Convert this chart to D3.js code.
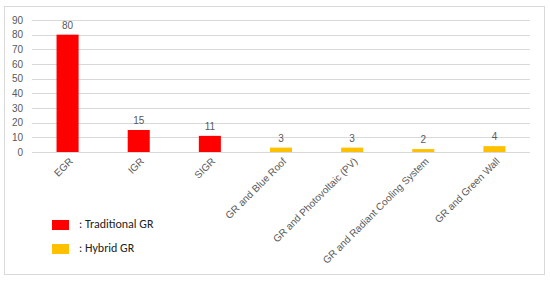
<!DOCTYPE html>
<html>
<head>
<meta charset="utf-8">
<script src="https://cdn.jsdelivr.net/npm/d3@7"></script>
<style>
  body { margin: 0; background: #fff; }
  svg { font-family: Arial, "Liberation Sans", sans-serif; }
</style>
</head>
<body>
<div id="chart"></div>
<script>
var categories = ["EGR", "IGR", "SIGR", "GR and Blue Roof", "GR and Photovoltaic (PV)", "GR and Radiant Cooling System", "GR and Green Wall"];
var values = [80, 15, 11, 3, 3, 2, 4];
var groups = ["Traditional", "Traditional", "Traditional", "Hybrid", "Hybrid", "Hybrid", "Hybrid"];
var yTicks = [0, 10, 20, 30, 40, 50, 60, 70, 80, 90];
var legendLabels = [": Traditional GR", ": Hybrid GR"];

var width = 550, height = 281;
var margin = {top: 20, left: 32, right: 20, bottom: 129};
var plotW = 530 - margin.left, plotH = 152 - margin.top;

var color = d3.scaleOrdinal()
    .domain(["Traditional", "Hybrid"])
    .range(["#ff0000", "#ffc000"]);

var svg = d3.select("#chart").append("svg")
    .attr("width", width)
    .attr("height", height);

svg.append("rect")
    .attr("x", 4.5).attr("y", 6.5)
    .attr("width", 540).attr("height", 268)
    .attr("fill", "#fff")
    .attr("stroke", "#d9d9d9");

var g = svg.append("g")
    .attr("transform", "translate(" + margin.left + "," + margin.top + ")");

var x = d3.scaleBand()
    .domain(categories)
    .range([0, plotW])
    .paddingInner(0.69)
    .paddingOuter(0.345);

var y = d3.scaleLinear()
    .domain([0, 90])
    .range([plotH, 0]);

// gridlines
g.selectAll(".grid")
    .data(yTicks)
    .enter().append("line")
    .attr("x1", 0).attr("x2", plotW)
    .attr("y1", function(d) { return Math.round(y(d)) + 0.5; })
    .attr("y2", function(d) { return Math.round(y(d)) + 0.5; })
    .attr("stroke", "#d9d9d9");

// y axis labels
var yAxis = d3.axisLeft(y).tickValues(yTicks).tickSize(0).tickPadding(9);
var ya = g.append("g").call(yAxis);
ya.select(".domain").remove();
ya.selectAll("text").attr("fill", "#595959").style("font-size", "10px");

// bars
g.selectAll(".bar")
    .data(values)
    .enter().append("rect")
    .attr("x", function(d, i) { return x(categories[i]); })
    .attr("y", function(d) { return y(d); })
    .attr("width", x.bandwidth())
    .attr("height", function(d) { return plotH - y(d); })
    .attr("fill", function(d, i) { return color(groups[i]); });

// value labels
g.selectAll(".val")
    .data(values)
    .enter().append("text")
    .attr("x", function(d, i) { return x(categories[i]) + x.bandwidth() / 2; })
    .attr("y", function(d) { return y(d) - 6; })
    .attr("text-anchor", "middle")
    .attr("fill", "#595959")
    .style("font-size", "10px")
    .text(function(d) { return d; });

// x axis labels
var xAxis = d3.axisBottom(x).tickSize(0).tickPadding(0);
var xa = g.append("g")
    .attr("transform", "translate(0," + plotH + ")")
    .call(xAxis);
xa.select(".domain").remove();
xa.selectAll("text")
    .attr("fill", "#595959")
    .style("font-size", "10px")
    .attr("text-anchor", "end")
    .attr("dy", null)
    .attr("y", 0)
    .attr("transform", "translate(6,10) rotate(-45)");

// legend
var legend = svg.selectAll(".legend")
    .data(legendLabels)
    .enter().append("g")
    .attr("transform", function(d, i) { return "translate(52," + (220 + i * 24) + ")"; });

legend.append("rect")
    .attr("width", 17).attr("height", 10)
    .attr("fill", function(d, i) { return color.range()[i]; });

legend.append("text")
    .attr("x", 27).attr("y", 8)
    .attr("fill", "#222")
    .style("font-family", "Carlito, 'Open Sans', sans-serif")
    .style("font-size", "12px")
    .text(function(d) { return d; });
</script>
</body>
</html>
